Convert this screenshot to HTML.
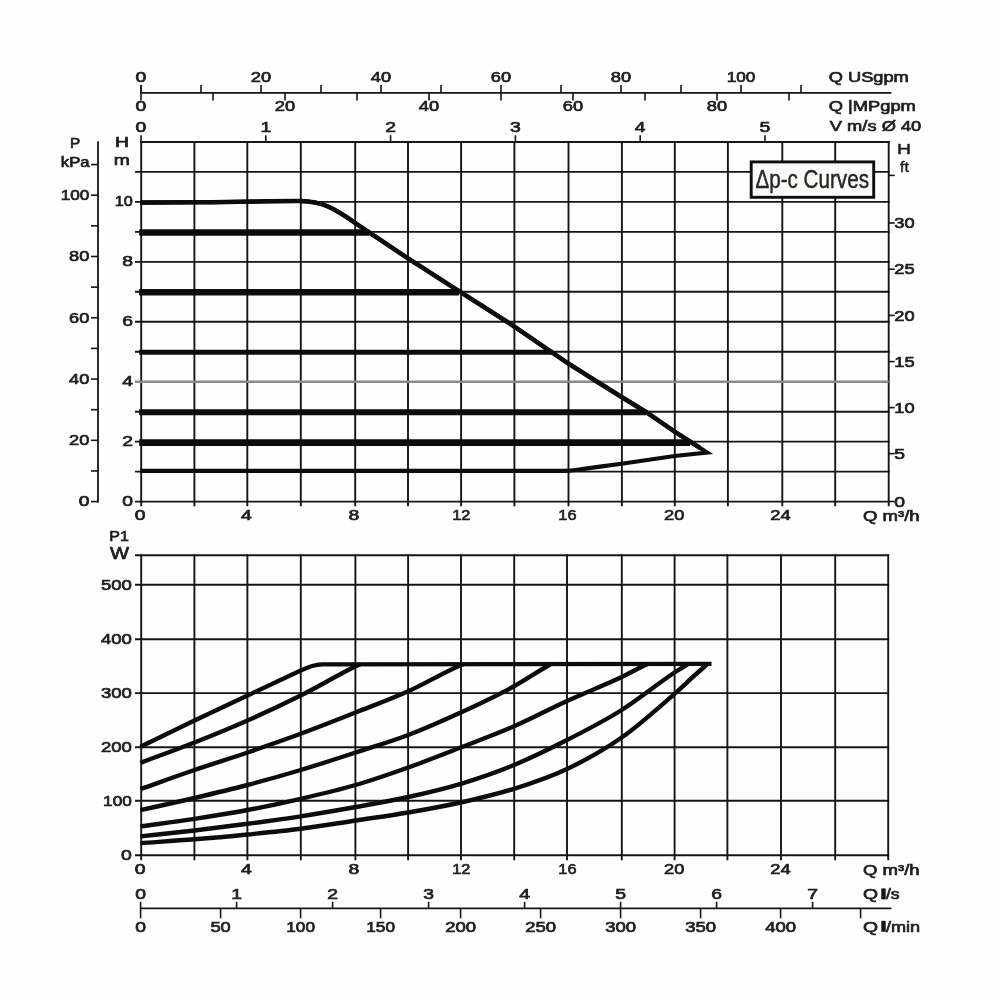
<!DOCTYPE html>
<html><head><meta charset="utf-8"><title>Pump curves</title>
<style>
html,body{margin:0;padding:0;background:#fefefe;}
body{width:1000px;height:1000px;overflow:hidden;font-family:"Liberation Sans",sans-serif;}
svg{display:block;filter:blur(0.5px);}
text{font-family:"Liberation Sans",sans-serif;}
</style></head><body>
<svg width="1000" height="1000" viewBox="0 0 1000 1000">
<rect x="0" y="0" width="1000" height="1000" fill="#fefefe"/>
<line x1="140.30" y1="92.90" x2="891.40" y2="92.90" stroke="#151515" stroke-width="1.8" stroke-linecap="butt"/>
<line x1="141.00" y1="84.90" x2="141.00" y2="92.90" stroke="#151515" stroke-width="1.6" stroke-linecap="butt"/>
<line x1="201.00" y1="84.90" x2="201.00" y2="92.90" stroke="#151515" stroke-width="1.6" stroke-linecap="butt"/>
<line x1="261.00" y1="84.90" x2="261.00" y2="92.90" stroke="#151515" stroke-width="1.6" stroke-linecap="butt"/>
<line x1="321.00" y1="84.90" x2="321.00" y2="92.90" stroke="#151515" stroke-width="1.6" stroke-linecap="butt"/>
<line x1="381.00" y1="84.90" x2="381.00" y2="92.90" stroke="#151515" stroke-width="1.6" stroke-linecap="butt"/>
<line x1="441.00" y1="84.90" x2="441.00" y2="92.90" stroke="#151515" stroke-width="1.6" stroke-linecap="butt"/>
<line x1="501.00" y1="84.90" x2="501.00" y2="92.90" stroke="#151515" stroke-width="1.6" stroke-linecap="butt"/>
<line x1="561.00" y1="84.90" x2="561.00" y2="92.90" stroke="#151515" stroke-width="1.6" stroke-linecap="butt"/>
<line x1="621.00" y1="84.90" x2="621.00" y2="92.90" stroke="#151515" stroke-width="1.6" stroke-linecap="butt"/>
<line x1="681.00" y1="84.90" x2="681.00" y2="92.90" stroke="#151515" stroke-width="1.6" stroke-linecap="butt"/>
<line x1="741.00" y1="84.90" x2="741.00" y2="92.90" stroke="#151515" stroke-width="1.6" stroke-linecap="butt"/>
<line x1="801.00" y1="84.90" x2="801.00" y2="92.90" stroke="#151515" stroke-width="1.6" stroke-linecap="butt"/>
<line x1="141.00" y1="84.90" x2="141.00" y2="100.40" stroke="#151515" stroke-width="1.6" stroke-linecap="butt"/>
<line x1="213.00" y1="92.90" x2="213.00" y2="100.40" stroke="#151515" stroke-width="1.6" stroke-linecap="butt"/>
<line x1="285.00" y1="92.90" x2="285.00" y2="100.40" stroke="#151515" stroke-width="1.6" stroke-linecap="butt"/>
<line x1="357.00" y1="92.90" x2="357.00" y2="100.40" stroke="#151515" stroke-width="1.6" stroke-linecap="butt"/>
<line x1="429.00" y1="92.90" x2="429.00" y2="100.40" stroke="#151515" stroke-width="1.6" stroke-linecap="butt"/>
<line x1="501.00" y1="92.90" x2="501.00" y2="100.40" stroke="#151515" stroke-width="1.6" stroke-linecap="butt"/>
<line x1="573.00" y1="92.90" x2="573.00" y2="100.40" stroke="#151515" stroke-width="1.6" stroke-linecap="butt"/>
<line x1="645.00" y1="92.90" x2="645.00" y2="100.40" stroke="#151515" stroke-width="1.6" stroke-linecap="butt"/>
<line x1="717.00" y1="92.90" x2="717.00" y2="100.40" stroke="#151515" stroke-width="1.6" stroke-linecap="butt"/>
<line x1="789.00" y1="92.90" x2="789.00" y2="100.40" stroke="#151515" stroke-width="1.6" stroke-linecap="butt"/>
<text transform="translate(141.00,82.36) scale(1.29,1)" text-anchor="middle" font-size="15.0" fill="#1e1e1e" stroke="#1e1e1e" stroke-width="0.7">0</text>
<text transform="translate(261.00,82.36) scale(1.29,1)" text-anchor="middle" font-size="15.0" fill="#1e1e1e" stroke="#1e1e1e" stroke-width="0.7" textLength="15.74" lengthAdjust="spacingAndGlyphs">20</text>
<text transform="translate(381.00,82.36) scale(1.29,1)" text-anchor="middle" font-size="15.0" fill="#1e1e1e" stroke="#1e1e1e" stroke-width="0.7" textLength="15.74" lengthAdjust="spacingAndGlyphs">40</text>
<text transform="translate(501.00,82.36) scale(1.29,1)" text-anchor="middle" font-size="15.0" fill="#1e1e1e" stroke="#1e1e1e" stroke-width="0.7" textLength="15.74" lengthAdjust="spacingAndGlyphs">60</text>
<text transform="translate(621.00,82.36) scale(1.29,1)" text-anchor="middle" font-size="15.0" fill="#1e1e1e" stroke="#1e1e1e" stroke-width="0.7" textLength="15.74" lengthAdjust="spacingAndGlyphs">80</text>
<text transform="translate(741.00,82.36) scale(1.29,1)" text-anchor="middle" font-size="15.0" fill="#1e1e1e" stroke="#1e1e1e" stroke-width="0.7" textLength="22.25" lengthAdjust="spacingAndGlyphs">100</text>
<text transform="translate(141.00,111.16) scale(1.29,1)" text-anchor="middle" font-size="15.0" fill="#1e1e1e" stroke="#1e1e1e" stroke-width="0.7">0</text>
<text transform="translate(285.00,111.16) scale(1.29,1)" text-anchor="middle" font-size="15.0" fill="#1e1e1e" stroke="#1e1e1e" stroke-width="0.7" textLength="15.74" lengthAdjust="spacingAndGlyphs">20</text>
<text transform="translate(429.00,111.16) scale(1.29,1)" text-anchor="middle" font-size="15.0" fill="#1e1e1e" stroke="#1e1e1e" stroke-width="0.7" textLength="15.74" lengthAdjust="spacingAndGlyphs">40</text>
<text transform="translate(573.00,111.16) scale(1.29,1)" text-anchor="middle" font-size="15.0" fill="#1e1e1e" stroke="#1e1e1e" stroke-width="0.7" textLength="15.74" lengthAdjust="spacingAndGlyphs">60</text>
<text transform="translate(717.00,111.16) scale(1.29,1)" text-anchor="middle" font-size="15.0" fill="#1e1e1e" stroke="#1e1e1e" stroke-width="0.7" textLength="15.74" lengthAdjust="spacingAndGlyphs">80</text>
<text transform="translate(141.00,131.76) scale(1.29,1)" text-anchor="middle" font-size="15.0" fill="#1e1e1e" stroke="#1e1e1e" stroke-width="0.7">0</text>
<line x1="141.00" y1="135.20" x2="141.00" y2="142.50" stroke="#151515" stroke-width="1.6" stroke-linecap="butt"/>
<text transform="translate(265.80,131.76) scale(1.29,1)" text-anchor="middle" font-size="15.0" fill="#1e1e1e" stroke="#1e1e1e" stroke-width="0.7">1</text>
<line x1="265.80" y1="135.20" x2="265.80" y2="142.50" stroke="#151515" stroke-width="1.6" stroke-linecap="butt"/>
<text transform="translate(390.60,131.76) scale(1.29,1)" text-anchor="middle" font-size="15.0" fill="#1e1e1e" stroke="#1e1e1e" stroke-width="0.7">2</text>
<line x1="390.60" y1="135.20" x2="390.60" y2="142.50" stroke="#151515" stroke-width="1.6" stroke-linecap="butt"/>
<text transform="translate(515.40,131.76) scale(1.29,1)" text-anchor="middle" font-size="15.0" fill="#1e1e1e" stroke="#1e1e1e" stroke-width="0.7">3</text>
<line x1="515.40" y1="135.20" x2="515.40" y2="142.50" stroke="#151515" stroke-width="1.6" stroke-linecap="butt"/>
<text transform="translate(640.20,131.76) scale(1.29,1)" text-anchor="middle" font-size="15.0" fill="#1e1e1e" stroke="#1e1e1e" stroke-width="0.7">4</text>
<line x1="640.20" y1="135.20" x2="640.20" y2="142.50" stroke="#151515" stroke-width="1.6" stroke-linecap="butt"/>
<text transform="translate(765.00,131.76) scale(1.29,1)" text-anchor="middle" font-size="15.0" fill="#1e1e1e" stroke="#1e1e1e" stroke-width="0.7">5</text>
<line x1="765.00" y1="135.20" x2="765.00" y2="142.50" stroke="#151515" stroke-width="1.6" stroke-linecap="butt"/>
<text transform="translate(828.80,82.26) scale(1.29,1)" text-anchor="start" font-size="15.0" fill="#1e1e1e" stroke="#1e1e1e" stroke-width="0.7" textLength="62.02" lengthAdjust="spacingAndGlyphs">Q USgpm</text>
<text transform="translate(828.80,111.06) scale(1.29,1)" text-anchor="start" font-size="15.0" fill="#1e1e1e" stroke="#1e1e1e" stroke-width="0.7" textLength="67.44" lengthAdjust="spacingAndGlyphs">Q |MPgpm</text>
<text transform="translate(829.80,131.46) scale(1.29,1)" text-anchor="start" font-size="15.0" fill="#1e1e1e" stroke="#1e1e1e" stroke-width="0.7" textLength="70.93" lengthAdjust="spacingAndGlyphs">V m/s Ø 40</text>
<line x1="141.20" y1="141.10" x2="141.20" y2="506.20" stroke="#151515" stroke-width="1.9" stroke-linecap="butt"/>
<line x1="194.40" y1="141.10" x2="194.40" y2="506.20" stroke="#151515" stroke-width="1.9" stroke-linecap="butt"/>
<line x1="247.30" y1="141.10" x2="247.30" y2="506.20" stroke="#151515" stroke-width="1.9" stroke-linecap="butt"/>
<line x1="300.80" y1="141.10" x2="300.80" y2="506.20" stroke="#151515" stroke-width="1.9" stroke-linecap="butt"/>
<line x1="355.20" y1="141.10" x2="355.20" y2="506.20" stroke="#151515" stroke-width="1.9" stroke-linecap="butt"/>
<line x1="408.00" y1="141.10" x2="408.00" y2="506.20" stroke="#151515" stroke-width="1.9" stroke-linecap="butt"/>
<line x1="461.10" y1="141.10" x2="461.10" y2="506.20" stroke="#151515" stroke-width="1.9" stroke-linecap="butt"/>
<line x1="514.40" y1="141.10" x2="514.40" y2="506.20" stroke="#151515" stroke-width="1.9" stroke-linecap="butt"/>
<line x1="568.50" y1="141.10" x2="568.50" y2="506.20" stroke="#151515" stroke-width="1.9" stroke-linecap="butt"/>
<line x1="621.90" y1="141.10" x2="621.90" y2="506.20" stroke="#151515" stroke-width="1.9" stroke-linecap="butt"/>
<line x1="674.80" y1="141.10" x2="674.80" y2="506.20" stroke="#151515" stroke-width="1.9" stroke-linecap="butt"/>
<line x1="727.90" y1="141.10" x2="727.90" y2="506.20" stroke="#151515" stroke-width="1.9" stroke-linecap="butt"/>
<line x1="782.30" y1="141.10" x2="782.30" y2="506.20" stroke="#151515" stroke-width="1.9" stroke-linecap="butt"/>
<line x1="835.20" y1="141.10" x2="835.20" y2="506.20" stroke="#151515" stroke-width="1.9" stroke-linecap="butt"/>
<line x1="888.70" y1="141.10" x2="888.70" y2="506.20" stroke="#151515" stroke-width="1.9" stroke-linecap="butt"/>
<line x1="140.20" y1="141.95" x2="889.60" y2="141.95" stroke="#151515" stroke-width="1.9" stroke-linecap="butt"/>
<line x1="135.00" y1="171.92" x2="889.60" y2="171.92" stroke="#151515" stroke-width="1.9" stroke-linecap="butt"/>
<line x1="135.00" y1="201.89" x2="889.60" y2="201.89" stroke="#151515" stroke-width="1.9" stroke-linecap="butt"/>
<line x1="135.00" y1="231.86" x2="889.60" y2="231.86" stroke="#151515" stroke-width="1.9" stroke-linecap="butt"/>
<line x1="135.00" y1="261.83" x2="889.60" y2="261.83" stroke="#151515" stroke-width="1.9" stroke-linecap="butt"/>
<line x1="135.00" y1="291.80" x2="889.60" y2="291.80" stroke="#151515" stroke-width="1.9" stroke-linecap="butt"/>
<line x1="135.00" y1="321.77" x2="889.60" y2="321.77" stroke="#151515" stroke-width="1.9" stroke-linecap="butt"/>
<line x1="135.00" y1="351.74" x2="889.60" y2="351.74" stroke="#151515" stroke-width="1.9" stroke-linecap="butt"/>
<line x1="135.00" y1="381.71" x2="888.70" y2="381.71" stroke="#8a8a8a" stroke-width="2.6" stroke-linecap="butt"/>
<line x1="135.00" y1="411.68" x2="889.60" y2="411.68" stroke="#151515" stroke-width="1.9" stroke-linecap="butt"/>
<line x1="135.00" y1="441.65" x2="889.60" y2="441.65" stroke="#151515" stroke-width="1.9" stroke-linecap="butt"/>
<line x1="135.00" y1="471.62" x2="889.60" y2="471.62" stroke="#151515" stroke-width="1.9" stroke-linecap="butt"/>
<line x1="135.00" y1="501.59" x2="889.60" y2="501.59" stroke="#151515" stroke-width="1.9" stroke-linecap="butt"/>
<line x1="98.00" y1="141.30" x2="98.00" y2="502.60" stroke="#151515" stroke-width="1.8" stroke-linecap="butt"/>
<line x1="91.00" y1="501.60" x2="98.50" y2="501.60" stroke="#151515" stroke-width="1.6" stroke-linecap="butt"/>
<line x1="91.00" y1="470.96" x2="98.50" y2="470.96" stroke="#151515" stroke-width="1.6" stroke-linecap="butt"/>
<line x1="91.00" y1="440.32" x2="98.50" y2="440.32" stroke="#151515" stroke-width="1.6" stroke-linecap="butt"/>
<line x1="91.00" y1="409.68" x2="98.50" y2="409.68" stroke="#151515" stroke-width="1.6" stroke-linecap="butt"/>
<line x1="91.00" y1="379.04" x2="98.50" y2="379.04" stroke="#151515" stroke-width="1.6" stroke-linecap="butt"/>
<line x1="91.00" y1="348.40" x2="98.50" y2="348.40" stroke="#151515" stroke-width="1.6" stroke-linecap="butt"/>
<line x1="91.00" y1="317.76" x2="98.50" y2="317.76" stroke="#151515" stroke-width="1.6" stroke-linecap="butt"/>
<line x1="91.00" y1="287.12" x2="98.50" y2="287.12" stroke="#151515" stroke-width="1.6" stroke-linecap="butt"/>
<line x1="91.00" y1="256.48" x2="98.50" y2="256.48" stroke="#151515" stroke-width="1.6" stroke-linecap="butt"/>
<line x1="91.00" y1="225.84" x2="98.50" y2="225.84" stroke="#151515" stroke-width="1.6" stroke-linecap="butt"/>
<line x1="91.00" y1="195.20" x2="98.50" y2="195.20" stroke="#151515" stroke-width="1.6" stroke-linecap="butt"/>
<line x1="91.00" y1="164.56" x2="98.50" y2="164.56" stroke="#151515" stroke-width="1.6" stroke-linecap="butt"/>
<text transform="translate(89.40,506.46) scale(1.29,1)" text-anchor="end" font-size="15.0" fill="#1e1e1e" stroke="#1e1e1e" stroke-width="0.7">0</text>
<text transform="translate(89.40,445.18) scale(1.29,1)" text-anchor="end" font-size="15.0" fill="#1e1e1e" stroke="#1e1e1e" stroke-width="0.7" textLength="15.74" lengthAdjust="spacingAndGlyphs">20</text>
<text transform="translate(89.40,383.90) scale(1.29,1)" text-anchor="end" font-size="15.0" fill="#1e1e1e" stroke="#1e1e1e" stroke-width="0.7" textLength="15.74" lengthAdjust="spacingAndGlyphs">40</text>
<text transform="translate(89.40,322.62) scale(1.29,1)" text-anchor="end" font-size="15.0" fill="#1e1e1e" stroke="#1e1e1e" stroke-width="0.7" textLength="15.74" lengthAdjust="spacingAndGlyphs">60</text>
<text transform="translate(89.40,261.34) scale(1.29,1)" text-anchor="end" font-size="15.0" fill="#1e1e1e" stroke="#1e1e1e" stroke-width="0.7" textLength="15.74" lengthAdjust="spacingAndGlyphs">80</text>
<text transform="translate(89.40,200.06) scale(1.29,1)" text-anchor="end" font-size="15.0" fill="#1e1e1e" stroke="#1e1e1e" stroke-width="0.7" textLength="22.25" lengthAdjust="spacingAndGlyphs">100</text>
<text transform="translate(75.20,148.16) scale(1.29,1)" text-anchor="middle" font-size="15.0" fill="#1e1e1e" stroke="#1e1e1e" stroke-width="0.7" textLength="7.91" lengthAdjust="spacingAndGlyphs">P</text>
<text transform="translate(60.80,166.76) scale(1.29,1)" text-anchor="start" font-size="15.0" fill="#1e1e1e" stroke="#1e1e1e" stroke-width="0.7" textLength="22.33" lengthAdjust="spacingAndGlyphs">kPa</text>
<text transform="translate(122.00,146.96) scale(1.29,1)" text-anchor="middle" font-size="15.0" fill="#1e1e1e" stroke="#1e1e1e" stroke-width="0.7">H</text>
<text transform="translate(121.70,165.36) scale(1.29,1)" text-anchor="middle" font-size="15.0" fill="#1e1e1e" stroke="#1e1e1e" stroke-width="0.7">m</text>
<text transform="translate(132.90,505.85) scale(1.29,1)" text-anchor="end" font-size="15.0" fill="#1e1e1e" stroke="#1e1e1e" stroke-width="0.7">0</text>
<text transform="translate(132.90,445.91) scale(1.29,1)" text-anchor="end" font-size="15.0" fill="#1e1e1e" stroke="#1e1e1e" stroke-width="0.7">2</text>
<text transform="translate(132.90,385.97) scale(1.29,1)" text-anchor="end" font-size="15.0" fill="#1e1e1e" stroke="#1e1e1e" stroke-width="0.7">4</text>
<text transform="translate(132.90,326.03) scale(1.29,1)" text-anchor="end" font-size="15.0" fill="#1e1e1e" stroke="#1e1e1e" stroke-width="0.7">6</text>
<text transform="translate(132.90,266.09) scale(1.29,1)" text-anchor="end" font-size="15.0" fill="#1e1e1e" stroke="#1e1e1e" stroke-width="0.7">8</text>
<text transform="translate(132.90,206.15) scale(1.29,1)" text-anchor="end" font-size="15.0" fill="#1e1e1e" stroke="#1e1e1e" stroke-width="0.7" textLength="14.03" lengthAdjust="spacingAndGlyphs">10</text>
<line x1="888.70" y1="501.50" x2="894.70" y2="501.50" stroke="#151515" stroke-width="1.6" stroke-linecap="butt"/>
<text transform="translate(894.30,506.66) scale(1.29,1)" text-anchor="start" font-size="15.0" fill="#1e1e1e" stroke="#1e1e1e" stroke-width="0.7">0</text>
<line x1="888.70" y1="453.60" x2="894.70" y2="453.60" stroke="#151515" stroke-width="1.6" stroke-linecap="butt"/>
<text transform="translate(894.30,458.76) scale(1.29,1)" text-anchor="start" font-size="15.0" fill="#1e1e1e" stroke="#1e1e1e" stroke-width="0.7">5</text>
<line x1="888.70" y1="407.60" x2="894.70" y2="407.60" stroke="#151515" stroke-width="1.6" stroke-linecap="butt"/>
<text transform="translate(894.30,412.76) scale(1.29,1)" text-anchor="start" font-size="15.0" fill="#1e1e1e" stroke="#1e1e1e" stroke-width="0.7" textLength="15.74" lengthAdjust="spacingAndGlyphs">10</text>
<line x1="888.70" y1="361.60" x2="894.70" y2="361.60" stroke="#151515" stroke-width="1.6" stroke-linecap="butt"/>
<text transform="translate(894.30,366.76) scale(1.29,1)" text-anchor="start" font-size="15.0" fill="#1e1e1e" stroke="#1e1e1e" stroke-width="0.7" textLength="15.74" lengthAdjust="spacingAndGlyphs">15</text>
<line x1="888.70" y1="315.40" x2="894.70" y2="315.40" stroke="#151515" stroke-width="1.6" stroke-linecap="butt"/>
<text transform="translate(894.30,320.56) scale(1.29,1)" text-anchor="start" font-size="15.0" fill="#1e1e1e" stroke="#1e1e1e" stroke-width="0.7" textLength="15.74" lengthAdjust="spacingAndGlyphs">20</text>
<line x1="888.70" y1="269.20" x2="894.70" y2="269.20" stroke="#151515" stroke-width="1.6" stroke-linecap="butt"/>
<text transform="translate(894.30,274.36) scale(1.29,1)" text-anchor="start" font-size="15.0" fill="#1e1e1e" stroke="#1e1e1e" stroke-width="0.7" textLength="15.74" lengthAdjust="spacingAndGlyphs">25</text>
<line x1="888.70" y1="223.00" x2="894.70" y2="223.00" stroke="#151515" stroke-width="1.6" stroke-linecap="butt"/>
<text transform="translate(894.30,228.16) scale(1.29,1)" text-anchor="start" font-size="15.0" fill="#1e1e1e" stroke="#1e1e1e" stroke-width="0.7" textLength="15.74" lengthAdjust="spacingAndGlyphs">30</text>
<line x1="888.70" y1="175.40" x2="894.70" y2="175.40" stroke="#151515" stroke-width="1.6" stroke-linecap="butt"/>
<text transform="translate(904.00,153.96) scale(1.29,1)" text-anchor="middle" font-size="15.0" fill="#1e1e1e" stroke="#1e1e1e" stroke-width="0.45">H</text>
<text transform="translate(904.40,172.16) scale(1.29,1)" text-anchor="middle" font-size="15.0" fill="#1e1e1e" stroke="#1e1e1e" stroke-width="0.45" textLength="6.82" lengthAdjust="spacingAndGlyphs">ft</text>
<text transform="translate(140.20,520.16) scale(1.29,1)" text-anchor="middle" font-size="15.0" fill="#1e1e1e" stroke="#1e1e1e" stroke-width="0.7">0</text>
<text transform="translate(246.50,520.16) scale(1.29,1)" text-anchor="middle" font-size="15.0" fill="#1e1e1e" stroke="#1e1e1e" stroke-width="0.7">4</text>
<text transform="translate(353.80,520.16) scale(1.29,1)" text-anchor="middle" font-size="15.0" fill="#1e1e1e" stroke="#1e1e1e" stroke-width="0.7">8</text>
<text transform="translate(461.20,520.16) scale(1.29,1)" text-anchor="middle" font-size="15.0" fill="#1e1e1e" stroke="#1e1e1e" stroke-width="0.7" textLength="14.03" lengthAdjust="spacingAndGlyphs">12</text>
<text transform="translate(567.40,520.16) scale(1.29,1)" text-anchor="middle" font-size="15.0" fill="#1e1e1e" stroke="#1e1e1e" stroke-width="0.7" textLength="14.03" lengthAdjust="spacingAndGlyphs">16</text>
<text transform="translate(674.20,520.16) scale(1.29,1)" text-anchor="middle" font-size="15.0" fill="#1e1e1e" stroke="#1e1e1e" stroke-width="0.7" textLength="15.74" lengthAdjust="spacingAndGlyphs">20</text>
<text transform="translate(780.40,520.16) scale(1.29,1)" text-anchor="middle" font-size="15.0" fill="#1e1e1e" stroke="#1e1e1e" stroke-width="0.7" textLength="15.74" lengthAdjust="spacingAndGlyphs">24</text>
<text transform="translate(863.00,521.36) scale(1.29,1)" text-anchor="start" font-size="15.0" fill="#1e1e1e" stroke="#1e1e1e" stroke-width="0.7" textLength="43.88" lengthAdjust="spacingAndGlyphs">Q m³/h</text>
<line x1="139.20" y1="232.46" x2="369.00" y2="232.46" stroke="#0c0c0c" stroke-width="6.4" stroke-linecap="butt"/>
<line x1="139.20" y1="292.20" x2="459.00" y2="292.20" stroke="#0c0c0c" stroke-width="6.4" stroke-linecap="butt"/>
<line x1="139.20" y1="352.14" x2="553.00" y2="352.14" stroke="#0c0c0c" stroke-width="5.0" stroke-linecap="butt"/>
<line x1="139.20" y1="412.18" x2="646.00" y2="412.18" stroke="#0c0c0c" stroke-width="6.0" stroke-linecap="butt"/>
<line x1="139.20" y1="442.65" x2="690.00" y2="442.65" stroke="#0c0c0c" stroke-width="6.8" stroke-linecap="butt"/>
<path d="M140.2,202.6 L200,202.3 C250,201.8 280,200.8 300,201 C312,201.2 320,203 328,206.5 C335,209.6 344,215 355.2,223 L368,231.6 L408,258.4 L461,292.4 L509,323 L552,352.4 L568.4,363.6 L596,381 L621.6,397 L646,412 L674.6,431.6 L690,441.5 L707.2,452.5 L674.6,456 L621.6,463.8 L600,466.6 L584,468.9 C576,470 572,470.9 564,470.9 L140.2,470.9" fill="none" stroke="#0c0c0c" stroke-width="4.1" stroke-linejoin="miter" stroke-miterlimit="10"/>
<path d="M140.2,202.6 L200,202.3 C250,201.8 280,200.8 300,201 C312,201.2 320,203 328,206.5 C335,209.6 344,215 355.2,223 L368,231.6 L408,258.4 L461,292.4 L509,323 L552,352.4 L568.4,363.6 L596,381 L621.6,397 L646,412 L674.6,431.6 L690,441.5 L700,447.9" fill="none" stroke="#0c0c0c" stroke-width="4.5" stroke-linejoin="miter" stroke-linecap="butt"/>
<rect x="751.2" y="161.9" width="122.5" height="35.4" fill="#fafaf8" stroke="#0e0e0e" stroke-width="2.9"/>
<text transform="translate(755.40,188.34) scale(0.8,1)" text-anchor="start" font-size="26" fill="#262626" stroke="#262626" stroke-width="0.45" textLength="142.00" lengthAdjust="spacingAndGlyphs">Δp-c Curves</text>
<line x1="141.20" y1="554.30" x2="141.20" y2="860.20" stroke="#151515" stroke-width="1.9" stroke-linecap="butt"/>
<line x1="194.40" y1="554.30" x2="194.40" y2="860.20" stroke="#151515" stroke-width="1.9" stroke-linecap="butt"/>
<line x1="247.40" y1="554.30" x2="247.40" y2="860.20" stroke="#151515" stroke-width="1.9" stroke-linecap="butt"/>
<line x1="300.80" y1="554.30" x2="300.80" y2="860.20" stroke="#151515" stroke-width="1.9" stroke-linecap="butt"/>
<line x1="355.40" y1="554.30" x2="355.40" y2="860.20" stroke="#151515" stroke-width="1.9" stroke-linecap="butt"/>
<line x1="408.10" y1="554.30" x2="408.10" y2="860.20" stroke="#151515" stroke-width="1.9" stroke-linecap="butt"/>
<line x1="461.00" y1="554.30" x2="461.00" y2="860.20" stroke="#151515" stroke-width="1.9" stroke-linecap="butt"/>
<line x1="514.20" y1="554.30" x2="514.20" y2="860.20" stroke="#151515" stroke-width="1.9" stroke-linecap="butt"/>
<line x1="567.00" y1="554.30" x2="567.00" y2="860.20" stroke="#151515" stroke-width="1.9" stroke-linecap="butt"/>
<line x1="621.80" y1="554.30" x2="621.80" y2="860.20" stroke="#151515" stroke-width="1.9" stroke-linecap="butt"/>
<line x1="674.60" y1="554.30" x2="674.60" y2="860.20" stroke="#151515" stroke-width="1.9" stroke-linecap="butt"/>
<line x1="727.40" y1="554.30" x2="727.40" y2="860.20" stroke="#151515" stroke-width="1.9" stroke-linecap="butt"/>
<line x1="781.00" y1="554.30" x2="781.00" y2="860.20" stroke="#151515" stroke-width="1.9" stroke-linecap="butt"/>
<line x1="835.20" y1="554.30" x2="835.20" y2="860.20" stroke="#151515" stroke-width="1.9" stroke-linecap="butt"/>
<line x1="888.20" y1="554.30" x2="888.20" y2="860.20" stroke="#151515" stroke-width="1.9" stroke-linecap="butt"/>
<line x1="135.00" y1="555.20" x2="889.10" y2="555.20" stroke="#151515" stroke-width="1.9" stroke-linecap="butt"/>
<line x1="135.00" y1="584.80" x2="889.10" y2="584.80" stroke="#151515" stroke-width="1.9" stroke-linecap="butt"/>
<line x1="135.00" y1="639.20" x2="889.10" y2="639.20" stroke="#151515" stroke-width="1.9" stroke-linecap="butt"/>
<line x1="135.00" y1="693.10" x2="889.10" y2="693.10" stroke="#151515" stroke-width="1.9" stroke-linecap="butt"/>
<line x1="135.00" y1="747.30" x2="889.10" y2="747.30" stroke="#151515" stroke-width="1.9" stroke-linecap="butt"/>
<line x1="135.00" y1="800.80" x2="889.10" y2="800.80" stroke="#151515" stroke-width="1.9" stroke-linecap="butt"/>
<line x1="135.00" y1="855.20" x2="889.10" y2="855.20" stroke="#151515" stroke-width="1.9" stroke-linecap="butt"/>
<text transform="translate(109.20,541.36) scale(1.29,1)" text-anchor="start" font-size="15.0" fill="#1e1e1e" stroke="#1e1e1e" stroke-width="0.7" textLength="15.19" lengthAdjust="spacingAndGlyphs">P1</text>
<text transform="translate(110.00,558.90) scale(1.29,1)" text-anchor="start" font-size="16" fill="#1e1e1e" stroke="#1e1e1e" stroke-width="0.7" textLength="14.73" lengthAdjust="spacingAndGlyphs">W</text>
<text transform="translate(131.80,589.56) scale(1.29,1)" text-anchor="end" font-size="15.0" fill="#1e1e1e" stroke="#1e1e1e" stroke-width="0.7" textLength="23.95" lengthAdjust="spacingAndGlyphs">500</text>
<text transform="translate(131.80,643.96) scale(1.29,1)" text-anchor="end" font-size="15.0" fill="#1e1e1e" stroke="#1e1e1e" stroke-width="0.7" textLength="23.95" lengthAdjust="spacingAndGlyphs">400</text>
<text transform="translate(131.80,697.86) scale(1.29,1)" text-anchor="end" font-size="15.0" fill="#1e1e1e" stroke="#1e1e1e" stroke-width="0.7" textLength="23.95" lengthAdjust="spacingAndGlyphs">300</text>
<text transform="translate(131.80,752.06) scale(1.29,1)" text-anchor="end" font-size="15.0" fill="#1e1e1e" stroke="#1e1e1e" stroke-width="0.7" textLength="23.95" lengthAdjust="spacingAndGlyphs">200</text>
<text transform="translate(131.80,805.56) scale(1.29,1)" text-anchor="end" font-size="15.0" fill="#1e1e1e" stroke="#1e1e1e" stroke-width="0.7" textLength="22.25" lengthAdjust="spacingAndGlyphs">100</text>
<text transform="translate(131.80,859.96) scale(1.29,1)" text-anchor="end" font-size="15.0" fill="#1e1e1e" stroke="#1e1e1e" stroke-width="0.7">0</text>
<text transform="translate(140.20,873.66) scale(1.29,1)" text-anchor="middle" font-size="15.0" fill="#1e1e1e" stroke="#1e1e1e" stroke-width="0.7">0</text>
<text transform="translate(246.50,873.66) scale(1.29,1)" text-anchor="middle" font-size="15.0" fill="#1e1e1e" stroke="#1e1e1e" stroke-width="0.7">4</text>
<text transform="translate(353.80,873.66) scale(1.29,1)" text-anchor="middle" font-size="15.0" fill="#1e1e1e" stroke="#1e1e1e" stroke-width="0.7">8</text>
<text transform="translate(461.20,873.66) scale(1.29,1)" text-anchor="middle" font-size="15.0" fill="#1e1e1e" stroke="#1e1e1e" stroke-width="0.7" textLength="14.03" lengthAdjust="spacingAndGlyphs">12</text>
<text transform="translate(567.40,873.66) scale(1.29,1)" text-anchor="middle" font-size="15.0" fill="#1e1e1e" stroke="#1e1e1e" stroke-width="0.7" textLength="14.03" lengthAdjust="spacingAndGlyphs">16</text>
<text transform="translate(674.20,873.66) scale(1.29,1)" text-anchor="middle" font-size="15.0" fill="#1e1e1e" stroke="#1e1e1e" stroke-width="0.7" textLength="15.74" lengthAdjust="spacingAndGlyphs">20</text>
<text transform="translate(780.40,873.66) scale(1.29,1)" text-anchor="middle" font-size="15.0" fill="#1e1e1e" stroke="#1e1e1e" stroke-width="0.7" textLength="15.74" lengthAdjust="spacingAndGlyphs">24</text>
<text transform="translate(863.00,874.86) scale(1.29,1)" text-anchor="start" font-size="15.0" fill="#1e1e1e" stroke="#1e1e1e" stroke-width="0.7" textLength="43.88" lengthAdjust="spacingAndGlyphs">Q m³/h</text>
<path d="M140.4,746.7 L194.5,720.5 L247.5,695.5 L300.7,670.5 C308,667 314,664.6 322,664.4 L711.5,663.9" fill="none" stroke="#0c0c0c" stroke-width="4.4" stroke-linejoin="round" stroke-linecap="butt"/>
<path d="M140.40,762.80 C158.43,756.03 176.47,749.63 194.50,742.50 C212.17,735.52 229.83,728.32 247.50,720.50 C265.23,712.65 282.97,704.37 300.70,695.50 C319.03,686.33 337.37,675.22 355.70,666.30 C357.13,665.60 358.57,665.03 360.00,664.40" fill="none" stroke="#0c0c0c" stroke-width="4.4" stroke-linejoin="round" stroke-linecap="butt"/>
<path d="M140.40,789.10 C158.43,782.73 176.47,776.16 194.50,770.00 C212.17,763.96 229.83,758.52 247.50,752.50 C265.23,746.46 282.97,740.35 300.70,733.80 C319.03,727.03 337.37,719.75 355.70,712.50 C373.20,705.58 390.70,699.18 408.20,691.30 C425.70,683.42 443.20,672.59 460.70,665.20 C461.47,664.88 462.23,664.67 463.00,664.40" fill="none" stroke="#0c0c0c" stroke-width="4.4" stroke-linejoin="round" stroke-linecap="butt"/>
<path d="M140.40,810.20 C158.43,806.13 176.47,802.24 194.50,798.00 C212.17,793.84 229.83,789.66 247.50,785.00 C265.23,780.33 282.97,775.32 300.70,770.00 C319.03,764.50 337.37,758.47 355.70,752.50 C373.20,746.80 390.70,741.67 408.20,735.00 C425.70,728.33 443.20,720.55 460.70,712.50 C478.47,704.33 496.23,696.05 514.00,686.30 C525.17,680.17 536.33,672.36 547.50,666.00 C548.50,665.43 549.50,664.93 550.50,664.40" fill="none" stroke="#0c0c0c" stroke-width="4.4" stroke-linejoin="round" stroke-linecap="butt"/>
<path d="M140.40,826.40 C158.43,823.87 176.47,821.56 194.50,818.80 C212.17,816.09 229.83,813.33 247.50,810.00 C265.23,806.66 282.97,802.89 300.70,798.80 C319.03,794.57 337.37,790.36 355.70,785.00 C373.20,779.89 390.70,773.75 408.20,767.50 C425.70,761.25 443.20,754.31 460.70,747.50 C478.47,740.58 496.23,734.07 514.00,726.30 C531.67,718.57 549.33,709.09 567.00,701.00 C585.23,692.65 603.47,685.62 621.70,677.00 C629.47,673.33 637.23,668.72 645.00,665.20 C645.67,664.90 646.33,664.67 647.00,664.40" fill="none" stroke="#0c0c0c" stroke-width="4.4" stroke-linejoin="round" stroke-linecap="butt"/>
<path d="M140.40,836.40 C158.43,834.43 176.47,832.62 194.50,830.50 C212.17,828.42 229.83,826.16 247.50,823.80 C265.23,821.43 282.97,819.05 300.70,816.30 C319.03,813.46 337.37,810.30 355.70,807.00 C373.20,803.85 390.70,800.87 408.20,797.00 C425.70,793.13 443.20,789.09 460.70,783.80 C478.47,778.43 496.23,772.32 514.00,765.00 C531.67,757.72 549.33,749.01 567.00,740.00 C585.23,730.70 603.47,721.47 621.70,710.00 C639.30,698.92 656.90,684.23 674.50,672.50 C678.83,669.61 683.17,667.10 687.50,664.40" fill="none" stroke="#0c0c0c" stroke-width="4.4" stroke-linejoin="round" stroke-linecap="butt"/>
<path d="M140.40,843.10 C158.43,841.83 176.47,840.75 194.50,839.30 C212.17,837.88 229.83,836.25 247.50,834.50 C265.23,832.75 282.97,831.09 300.70,828.80 C319.03,826.43 337.37,823.28 355.70,820.50 C373.20,817.85 390.70,815.50 408.20,812.50 C425.70,809.50 443.20,806.42 460.70,802.50 C478.47,798.52 496.23,794.40 514.00,788.80 C531.67,783.23 549.33,777.39 567.00,769.00 C585.23,760.34 603.47,750.30 621.70,737.50 C639.30,725.15 656.90,709.15 674.50,693.80 C681.33,687.84 688.17,681.15 695.00,675.00 C699.00,671.40 703.00,667.93 707.00,664.40" fill="none" stroke="#0c0c0c" stroke-width="4.4" stroke-linejoin="round" stroke-linecap="butt"/>
<line x1="140.00" y1="908.30" x2="891.40" y2="908.30" stroke="#151515" stroke-width="1.8" stroke-linecap="butt"/>
<line x1="140.60" y1="901.80" x2="140.60" y2="918.30" stroke="#151515" stroke-width="1.6" stroke-linecap="butt"/>
<text transform="translate(140.60,899.36) scale(1.29,1)" text-anchor="middle" font-size="15.0" fill="#1e1e1e" stroke="#1e1e1e" stroke-width="0.7">0</text>
<line x1="236.60" y1="901.80" x2="236.60" y2="908.30" stroke="#151515" stroke-width="1.6" stroke-linecap="butt"/>
<text transform="translate(236.60,899.36) scale(1.29,1)" text-anchor="middle" font-size="15.0" fill="#1e1e1e" stroke="#1e1e1e" stroke-width="0.7">1</text>
<line x1="332.60" y1="901.80" x2="332.60" y2="908.30" stroke="#151515" stroke-width="1.6" stroke-linecap="butt"/>
<text transform="translate(332.60,899.36) scale(1.29,1)" text-anchor="middle" font-size="15.0" fill="#1e1e1e" stroke="#1e1e1e" stroke-width="0.7">2</text>
<line x1="428.60" y1="901.80" x2="428.60" y2="908.30" stroke="#151515" stroke-width="1.6" stroke-linecap="butt"/>
<text transform="translate(428.60,899.36) scale(1.29,1)" text-anchor="middle" font-size="15.0" fill="#1e1e1e" stroke="#1e1e1e" stroke-width="0.7">3</text>
<line x1="524.60" y1="901.80" x2="524.60" y2="908.30" stroke="#151515" stroke-width="1.6" stroke-linecap="butt"/>
<text transform="translate(524.60,899.36) scale(1.29,1)" text-anchor="middle" font-size="15.0" fill="#1e1e1e" stroke="#1e1e1e" stroke-width="0.7">4</text>
<line x1="620.60" y1="901.80" x2="620.60" y2="908.30" stroke="#151515" stroke-width="1.6" stroke-linecap="butt"/>
<text transform="translate(620.60,899.36) scale(1.29,1)" text-anchor="middle" font-size="15.0" fill="#1e1e1e" stroke="#1e1e1e" stroke-width="0.7">5</text>
<line x1="716.60" y1="901.80" x2="716.60" y2="908.30" stroke="#151515" stroke-width="1.6" stroke-linecap="butt"/>
<text transform="translate(716.60,899.36) scale(1.29,1)" text-anchor="middle" font-size="15.0" fill="#1e1e1e" stroke="#1e1e1e" stroke-width="0.7">6</text>
<line x1="812.60" y1="901.80" x2="812.60" y2="908.30" stroke="#151515" stroke-width="1.6" stroke-linecap="butt"/>
<text transform="translate(812.60,899.36) scale(1.29,1)" text-anchor="middle" font-size="15.0" fill="#1e1e1e" stroke="#1e1e1e" stroke-width="0.7">7</text>
<line x1="220.60" y1="908.30" x2="220.60" y2="918.30" stroke="#151515" stroke-width="1.6" stroke-linecap="butt"/>
<line x1="300.60" y1="908.30" x2="300.60" y2="918.30" stroke="#151515" stroke-width="1.6" stroke-linecap="butt"/>
<line x1="380.60" y1="908.30" x2="380.60" y2="918.30" stroke="#151515" stroke-width="1.6" stroke-linecap="butt"/>
<line x1="460.60" y1="908.30" x2="460.60" y2="918.30" stroke="#151515" stroke-width="1.6" stroke-linecap="butt"/>
<line x1="540.60" y1="908.30" x2="540.60" y2="918.30" stroke="#151515" stroke-width="1.6" stroke-linecap="butt"/>
<line x1="620.60" y1="908.30" x2="620.60" y2="918.30" stroke="#151515" stroke-width="1.6" stroke-linecap="butt"/>
<line x1="700.60" y1="908.30" x2="700.60" y2="918.30" stroke="#151515" stroke-width="1.6" stroke-linecap="butt"/>
<line x1="780.60" y1="908.30" x2="780.60" y2="918.30" stroke="#151515" stroke-width="1.6" stroke-linecap="butt"/>
<line x1="860.60" y1="908.30" x2="860.60" y2="918.30" stroke="#151515" stroke-width="1.6" stroke-linecap="butt"/>
<text transform="translate(140.60,931.66) scale(1.29,1)" text-anchor="middle" font-size="15.0" fill="#1e1e1e" stroke="#1e1e1e" stroke-width="0.7">0</text>
<text transform="translate(220.60,931.66) scale(1.29,1)" text-anchor="middle" font-size="15.0" fill="#1e1e1e" stroke="#1e1e1e" stroke-width="0.7" textLength="15.74" lengthAdjust="spacingAndGlyphs">50</text>
<text transform="translate(300.60,931.66) scale(1.29,1)" text-anchor="middle" font-size="15.0" fill="#1e1e1e" stroke="#1e1e1e" stroke-width="0.7" textLength="22.25" lengthAdjust="spacingAndGlyphs">100</text>
<text transform="translate(380.60,931.66) scale(1.29,1)" text-anchor="middle" font-size="15.0" fill="#1e1e1e" stroke="#1e1e1e" stroke-width="0.7" textLength="22.25" lengthAdjust="spacingAndGlyphs">150</text>
<text transform="translate(460.60,931.66) scale(1.29,1)" text-anchor="middle" font-size="15.0" fill="#1e1e1e" stroke="#1e1e1e" stroke-width="0.7" textLength="23.95" lengthAdjust="spacingAndGlyphs">200</text>
<text transform="translate(540.60,931.66) scale(1.29,1)" text-anchor="middle" font-size="15.0" fill="#1e1e1e" stroke="#1e1e1e" stroke-width="0.7" textLength="23.95" lengthAdjust="spacingAndGlyphs">250</text>
<text transform="translate(620.60,931.66) scale(1.29,1)" text-anchor="middle" font-size="15.0" fill="#1e1e1e" stroke="#1e1e1e" stroke-width="0.7" textLength="23.95" lengthAdjust="spacingAndGlyphs">300</text>
<text transform="translate(700.60,931.66) scale(1.29,1)" text-anchor="middle" font-size="15.0" fill="#1e1e1e" stroke="#1e1e1e" stroke-width="0.7" textLength="23.95" lengthAdjust="spacingAndGlyphs">350</text>
<text transform="translate(780.60,931.66) scale(1.29,1)" text-anchor="middle" font-size="15.0" fill="#1e1e1e" stroke="#1e1e1e" stroke-width="0.7" textLength="23.95" lengthAdjust="spacingAndGlyphs">400</text>
<text transform="translate(863.00,899.16) scale(1.29,1)" text-anchor="start" font-size="15.0" fill="#1e1e1e" stroke="#1e1e1e" stroke-width="0.7">Q</text>
<rect x="881.3" y="888.4" width="4.4" height="11" fill="#161616"/>
<text transform="translate(886.00,899.16) scale(1.29,1)" text-anchor="start" font-size="15.0" fill="#1e1e1e" stroke="#1e1e1e" stroke-width="0.7" textLength="10.54" lengthAdjust="spacingAndGlyphs">/s</text>
<text transform="translate(863.00,931.56) scale(1.29,1)" text-anchor="start" font-size="15.0" fill="#1e1e1e" stroke="#1e1e1e" stroke-width="0.7">Q</text>
<rect x="881.3" y="920.8" width="4.4" height="11" fill="#161616"/>
<text transform="translate(886.00,931.56) scale(1.29,1)" text-anchor="start" font-size="15.0" fill="#1e1e1e" stroke="#1e1e1e" stroke-width="0.7" textLength="26.51" lengthAdjust="spacingAndGlyphs">/min</text>
</svg>
</body></html>
